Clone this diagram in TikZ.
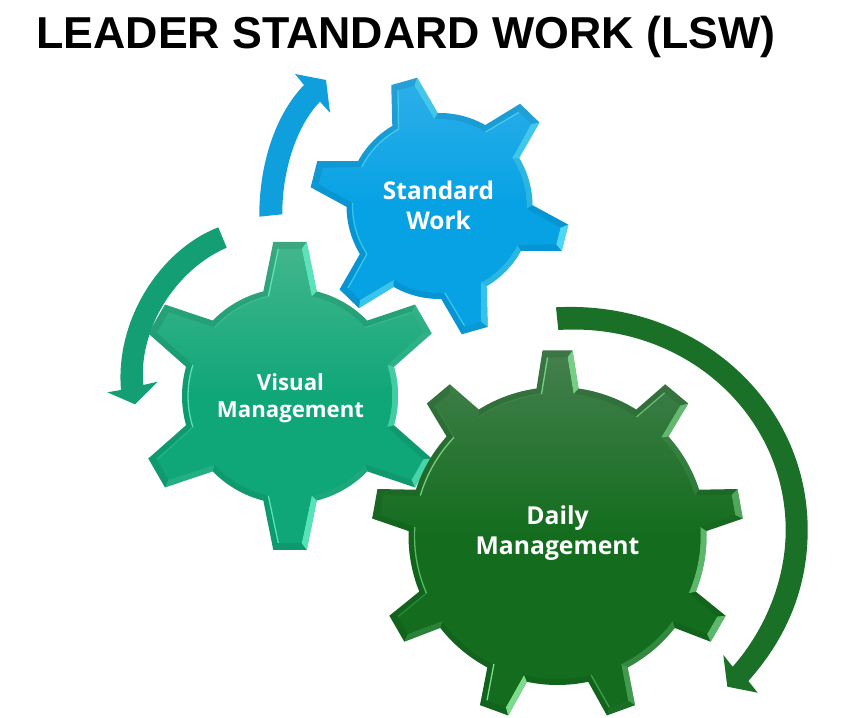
\documentclass[tikz,border=0pt]{standalone}
\usepackage{fontspec}
\setmainfont{Open Sans}
\newfontfamily\headfont{Liberation Sans}
\definecolor{bluetop}{HTML}{2BAEE9}
\definecolor{bluebot}{HTML}{06A2E4}
\definecolor{bluelite}{HTML}{5FE8FA}
\definecolor{bluearrow}{HTML}{0F9FDC}
\definecolor{mintop}{HTML}{41B68C}
\definecolor{minbot}{HTML}{0FA678}
\definecolor{minlite}{HTML}{62EDC4}
\definecolor{minarrow}{HTML}{139E74}
\definecolor{forsttop}{HTML}{437F4C}
\definecolor{forstbot}{HTML}{146D1F}
\definecolor{forstlite}{HTML}{7FDD8E}
\definecolor{forstarrow}{HTML}{1A7027}
\tikzset{
  gearlabel/.style={text=white,align=center,font=\bfseries},
  turnarrow/.style={fill=#1,draw=none}
}
\newcommand{\gearpath}[6]{% r, tip r, tip half width, base half angle, teeth, first angle
  ({#6-#4}:#1)
  \foreach \k [evaluate=\k as \tang using #6+(\k-1)*360/#5] in {1,...,#5} {
    -- ({\tang-#4}:#1) -- ([rotate=\tang]#2,-#3) -- ([rotate=\tang]#2,#3) -- ({\tang+#4}:#1)
    arc[start angle={\tang+#4},end angle={\tang+360/#5-#4},radius=#1]
  } -- cycle}
\newcommand{\drawgear}[9]{% x, y, r, tip r, tip half width, base half angle, teeth, first angle, colour
  \begin{scope}[shift={(#1,#2)}]
    \pgfmathsetmacro{\ir}{#3-6}
    \pgfmathsetmacro{\iR}{#4-7}
    \pgfmathsetmacro{\iw}{#5-5}
    \pgfmathsetmacro{\ia}{asin((#3*sin(#6)-5)/\ir)}
    \pgfmathsetmacro{\stepa}{360/#7}
    \shade[top color=#9top!92!black,bottom color=#9bot!92!black,middle color=#9bot!92!black] \gearpath{#3}{#4}{#5}{#6}{#7}{#8};
    \foreach \k [evaluate=\k as \tang using #8+(\k-1)*\stepa] in {1,...,#7} {
      % bevel faces of one tooth and the arc after it
      \pgfmathsetmacro{\la}{lit(\tang-90)}
      \pgfmathsetmacro{\lb}{lit(\tang)*0.8}
      \pgfmathsetmacro{\lc}{lit(\tang+90)}
      \pgfmathsetmacro{\ld}{lit(\tang+\stepa/2)*0.7}
      \fill[#9lite,opacity=\la] ({\tang-#6}:#3) -- ([rotate=\tang]#4,-#5) -- ([rotate=\tang]\iR,-\iw) -- ({\tang-\ia}:\ir) -- cycle;
      \fill[#9lite,opacity=\lb] ([rotate=\tang]#4,-#5) -- ([rotate=\tang]#4,#5) -- ([rotate=\tang]\iR,\iw) -- ([rotate=\tang]\iR,-\iw) -- cycle;
      \fill[#9lite,opacity=\lc] ({\tang+#6}:#3) -- ([rotate=\tang]#4,#5) -- ([rotate=\tang]\iR,\iw) -- ({\tang+\ia}:\ir) -- cycle;
      \fill[#9lite,opacity=\ld] ({\tang+#6}:#3) arc[start angle={\tang+#6},end angle={\tang+\stepa-#6},radius=#3]
        -- ({\tang+\stepa-\ia}:\ir) arc[start angle={\tang+\stepa-\ia},end angle={\tang+\ia},radius=\ir] -- cycle;
    }
    \shade[top color=#9top,bottom color=#9bot,middle color=#9bot] \gearpath{\ir}{\iR}{\iw}{\ia}{#7}{#8};
    \foreach \k [evaluate=\k as \tang using #8+(\k-1)*\stepa] in {1,...,#7} {
      % thin glint on the inner rim, away from the light
      \pgfmathsetmacro{\la}{lit(\tang-90+180)}
      \pgfmathsetmacro{\lc}{lit(\tang+90+180)}
      \pgfmathsetmacro{\ld}{lit(\tang+\stepa/2+180)}
      \draw[#9lite,line width=1.3pt,opacity=\la] ({\tang-\ia}:\ir) -- ([rotate=\tang]\iR,-\iw);
      \draw[#9lite,line width=1.3pt,opacity=\lc] ({\tang+\ia}:\ir) -- ([rotate=\tang]\iR,\iw);
      \draw[#9lite,line width=1.3pt,opacity=\ld] ({\tang+\ia}:\ir) arc[start angle={\tang+\ia},end angle={\tang+\stepa-\ia},radius=\ir];
    }
  \end{scope}}
\begin{document}
\begin{tikzpicture}[x=1pt,y=1pt,
    declare function={lit(\a)=max(0,cos(\a+15))*max(0,cos(\a+15))*max(0,cos(\a+15))*max(0,cos(\a+15));}]
  \useasboundingbox (0,0) rectangle (845,717);

  \node[font=\headfont\bfseries\fontsize{44.7}{52}\selectfont,text=black] (title) at (406,680) {LEADER STANDARD WORK (LSW)};

  % arrows
  \fill[turnarrow=bluearrow] (259.3,500.3) .. controls (259,552) and (275,602) .. (304,632) -- (295,643) -- (326,637)
    -- (330,604.3) -- (320,615.3) .. controls (297,592) and (282,547) .. (282.3,502.7) -- cycle;
  \fill[turnarrow=minarrow] (218.3,489.7) .. controls (160,467) and (115,397) .. (121,327) -- (107.3,324.7) -- (135,312.7)
    -- (157.7,335.3) -- (143.3,332) .. controls (138,387) and (175,447) .. (226.7,469.3) -- cycle;
  \fill[turnarrow=forstarrow] (556,409.7) .. controls (695,417) and (807.7,317) .. (807.7,187)
    .. controls (807.7,127) and (785,77) .. (748.3,36) -- (757.7,24.3) -- (727.3,30.3) -- (723.3,62) -- (732.7,50.3)
    .. controls (765,87) and (785.7,137) .. (785.7,187) .. controls (785.7,302) and (685,395) .. (558.3,387) -- cycle;

  % gears
  \drawgear{439.5}{511}{93}{129.5}{13.5}{14.7}{6}{105.8}{blue}
  \drawgear{290}{321}{108}{154}{16.7}{14.3}{6}{90}{min}
  \drawgear{557.5}{181}{149}{185.5}{15}{8.1}{9}{90}{forst}

  \node[gearlabel,font=\bfseries\fontsize{24.4}{30}\selectfont] (stdwork) at (438.5,511.5) {Standard\\Work};
  \node[gearlabel,font=\bfseries\fontsize{22.2}{27}\selectfont] (visual) at (290.5,319) {Visual\\Management};
  \node[gearlabel,font=\bfseries\fontsize{24.7}{30}\selectfont] (daily) at (557.5,184) {Daily\\Management};
\end{tikzpicture}
\end{document}
